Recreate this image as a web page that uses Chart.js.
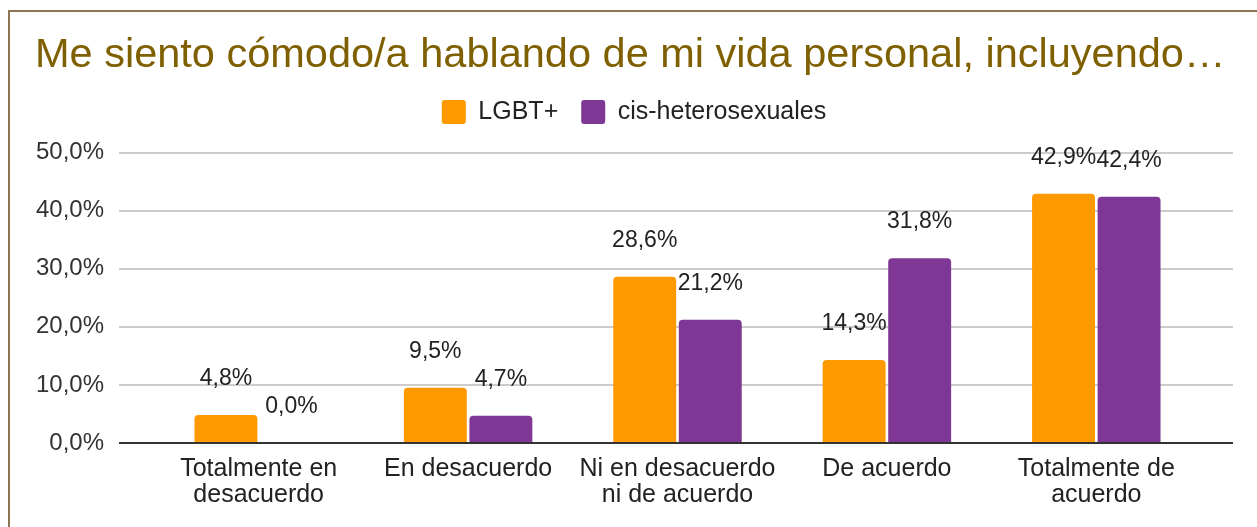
<!DOCTYPE html>
<html>
<head>
<meta charset="utf-8">
<script src="https://cdn.jsdelivr.net/npm/chart.js@4.4.1/dist/chart.umd.min.js"></script>
<style>
  html, body { margin: 0; padding: 0; background: #fff; }
  #frame {
    position: absolute; left: 8px; top: 10px; width: 1300px; height: 600px;
    border-left: 2px solid #8e7452; border-top: 2px solid #8e7452;
  }
  #wrap { position: absolute; left: 10px; top: 12px; width: 1247px; height: 515px; }
</style>
</head>
<body>
<div id="frame"></div>
<div id="wrap"><canvas id="c"></canvas></div>
<script>
// datos del gráfico
const titulo = "Me siento cómodo/a hablando de mi vida personal, incluyendo…";
const categorias = [
  ["Totalmente en", "desacuerdo"],
  "En desacuerdo",
  ["Ni en desacuerdo", "ni de acuerdo"],
  "De acuerdo",
  ["Totalmente de", "acuerdo"],
];
const lgbt = [4.8, 9.5, 28.6, 14.3, 42.9];
const cisHetero = [0.0, 4.7, 21.2, 31.8, 42.4];
const yTicks = [0, 10, 20, 30, 40, 50];

const FONT = 'Arial, "Liberation Sans", sans-serif';
const pct = (v) => v.toFixed(1).replace(".", ",") + "%";

// líneas de cuadrícula más anchas que el área de barras (estilo Google Sheets)
const gridPlugin = {
  id: "gridExt",
  beforeDatasetsDraw(chart) {
    const { ctx, chartArea, scales } = chart;
    ctx.save();
    ctx.lineWidth = 2;
    ctx.strokeStyle = "#cccccc";
    scales.y.ticks.forEach((t) => {
      if (t.value === 0) return;
      const py = Math.round(scales.y.getPixelForValue(t.value));
      ctx.beginPath();
      ctx.moveTo(chartArea.left - 35, py);
      ctx.lineTo(chartArea.right + 32, py);
      ctx.stroke();
    });
    ctx.restore();
  },
  afterDatasetsDraw(chart) {
    const { ctx, chartArea, scales } = chart;
    ctx.save();
    const py = Math.round(scales.y.getPixelForValue(0));
    ctx.lineWidth = 2;
    ctx.strokeStyle = "#333333";
    ctx.beginPath();
    ctx.moveTo(chartArea.left - 35, py);
    ctx.lineTo(chartArea.right + 32, py);
    ctx.stroke();

    // etiquetas de valores
    ctx.font = "23px " + FONT;
    ctx.fillStyle = "#222";
    ctx.textAlign = "center";
    ctx.textBaseline = "alphabetic";
    chart.data.datasets.forEach((ds, i) => {
      chart.getDatasetMeta(i).data.forEach((bar, j) => {
        ctx.fillText(pct(ds.data[j]), bar.x, bar.y - 30);
      });
    });
    ctx.restore();
  },
};

new Chart(document.getElementById("c").getContext("2d"), {
  type: "bar",
  data: {
    labels: categorias,
    datasets: [
      {
        label: "LGBT+",
        data: lgbt,
        backgroundColor: "#ff9900",
        borderWidth: 0,
        borderRadius: { topLeft: 4, topRight: 4 },
        borderSkipped: "bottom",
        categoryPercentage: 0.626,
        barPercentage: 0.96,
      },
      {
        label: "cis-heterosexuales",
        data: cisHetero,
        backgroundColor: "#7e3794",
        borderWidth: 0,
        borderRadius: { topLeft: 4, topRight: 4 },
        borderSkipped: "bottom",
        categoryPercentage: 0.626,
        barPercentage: 0.96,
      },
    ],
  },
  options: {
    responsive: true,
    maintainAspectRatio: false,
    animation: false,
    layout: { padding: { left: 25, right: 24, top: 0, bottom: 0 } },
    plugins: {
      title: {
        display: true,
        text: titulo,
        align: "start",
        color: "#7f6000",
        font: { size: 41.5, weight: "normal", family: FONT, lineHeight: 1 },
        padding: { top: 23, bottom: 0 },
      },
      subtitle: {
        display: true,
        text: "",
        weight: 500,
        font: { size: 1, lineHeight: 1 },
        padding: { top: 0, bottom: 17 },
      },
      legend: {
        position: "top",
        align: "center",
        labels: {
          boxWidth: 24,
          boxHeight: 24,
          padding: 23,
          color: "#222",
          useBorderRadius: true,
          borderRadius: 3,
          font: { size: 25, family: FONT },
        },
      },
      tooltip: { enabled: false },
    },
    scales: {
      x: {
        offset: true,
        grid: { display: false },
        border: { display: false },
        ticks: { color: "#222", padding: 5, font: { size: 25, family: FONT, lineHeight: 1.05 }, maxRotation: 0, autoSkip: false },
        afterFit: (s) => { s.height = 84; },
      },
      y: {
        min: 0,
        max: 50,
        afterBuildTicks: (s) => { s.ticks = yTicks.map((v) => ({ value: v })); },
        grid: { display: false, drawTicks: false },
        border: { display: false },
        ticks: { color: "#333", padding: 50, font: { size: 24, family: FONT }, callback: (v) => pct(v) },
        afterFit: (s) => { s.width = 119; },
      },
      y2: {
        type: "linear",
        position: "right",
        grid: { display: false },
        border: { display: false },
        ticks: { display: false },
        afterFit: (s) => { s.width = 32; },
      },
    },
  },
  plugins: [gridPlugin],
});
</script>
</body>
</html>
